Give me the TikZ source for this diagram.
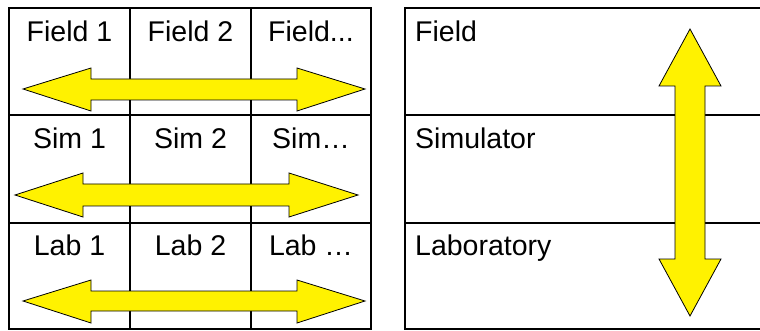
\documentclass[tikz,border=0pt]{standalone}
\usepackage{fontspec}
\setmainfont{Liberation Sans}
\tikzset{
  frame/.style={line width=2pt, draw=black},
  grid/.style={line width=1.2pt, draw=black},
  yarrow/.style={fill=yellow, draw=black, line width=0.8pt, line join=miter},
  celltext/.style={font=\fontsize{28.5}{32}\selectfont, anchor=base, inner sep=0pt},
  lefttext/.style={font=\fontsize{28.5}{32}\selectfont, anchor=base west, inner sep=0pt},
}
\begin{document}
\begin{tikzpicture}[x=1pt,y=-1pt]
\useasboundingbox (0,0) rectangle (760,331);
% left panel grid
\draw[grid] (130,8) -- (130,329);
\draw[grid] (251,8) -- (251,329);
\draw[grid] (9,115) -- (371,115);
\draw[grid] (9,223) -- (371,223);
\draw[frame] (9,8) rectangle (371,329);
% right panel
\begin{scope}
\clip (0,0) rectangle (760,331);
\draw[grid] (405,115) -- (765,115);
\draw[grid] (405,223) -- (765,223);
\draw[frame] (765,8) -- (405,8) -- (405,329) -- (765,329);
\end{scope}
% horizontal double arrows
\draw[yarrow] (23,89) -- (91,68) -- (91,79) -- (297,79) -- (297,68) -- (365,89) -- (297,111) -- (297,100) -- (91,100) -- (91,111) -- cycle;
\draw[yarrow] (15,195) -- (83,173) -- (83,184) -- (289,184) -- (289,173) -- (358,195) -- (289,217) -- (289,206) -- (83,206) -- (83,217) -- cycle;
\draw[yarrow] (23,301) -- (91,280) -- (91,291) -- (297,291) -- (297,280) -- (365,301) -- (297,323) -- (297,311) -- (91,311) -- (91,323) -- cycle;
% vertical double arrow
\draw[yarrow] (690,29) -- (721,86) -- (705,86) -- (705,259) -- (721,259) -- (690,316) -- (659,259) -- (675,259) -- (675,86) -- (659,86) -- cycle;
% texts
\node[celltext] (f1) at (69.5,42) {Field 1};
\node[celltext] (f2) at (190.5,42) {Field 2};
\node[celltext] (f3) at (311,42) {Field...};
\node[celltext] (s1) at (69.5,149) {Sim 1};
\node[celltext] (s2) at (190.5,149) {Sim 2};
\node[celltext] (s3) at (311,149) {Sim…};
\node[celltext] (l1) at (69.5,255) {Lab 1};
\node[celltext] (l2) at (190.5,255) {Lab 2};
\node[celltext] (l3) at (311,255) {Lab …};
\node[lefttext] (rf) at (415,42) {Field};
\node[lefttext] (rs) at (415,149) {Simulator};
\node[lefttext] (rl) at (415,255) {Laboratory};
\end{tikzpicture}
\end{document}
